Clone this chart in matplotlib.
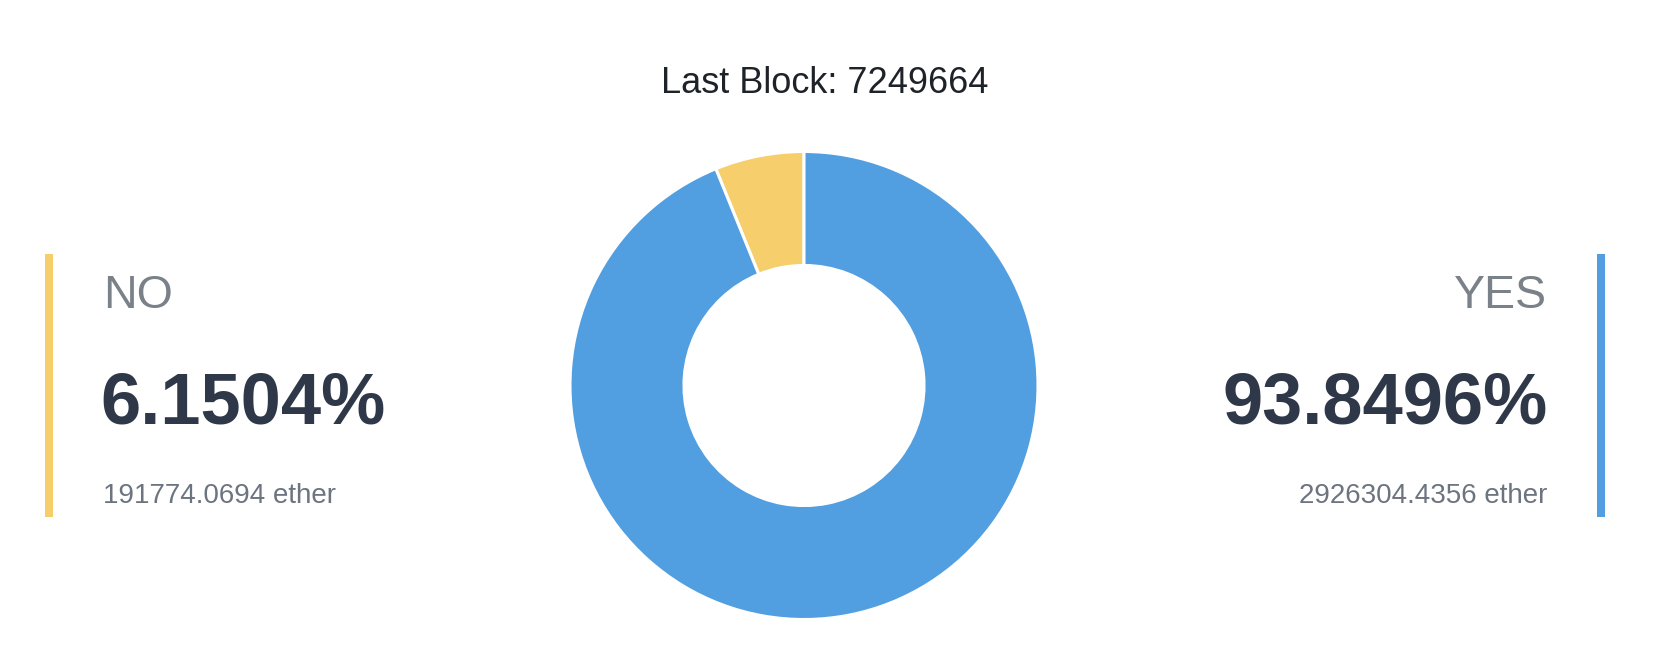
import matplotlib
matplotlib.use("Agg")
import matplotlib.pyplot as plt
from matplotlib.patches import Rectangle

# ---- data ----
labels = ["NO", "YES"]
percents = [6.1504, 93.8496]
ether = ["191774.0694", "2926304.4356"]
last_block = 7249664
colors = ["#F6CE6B", "#519EE0"]

W, H = 1670, 668
plt.rcParams['font.family'] = ['Liberation Sans', 'DejaVu Sans']
fig = plt.figure(figsize=(W / 100, H / 100), dpi=100)
fig.patch.set_facecolor("white")

def fx(x):
    return x / W

def fy(y):
    return 1 - y / H

# donut
cx, cy, r = 804, 385.5, 234
ax = fig.add_axes([fx(cx - r), fy(cy + r), 2 * r / W, 2 * r / H])
ax.pie(percents, colors=colors, startangle=90, counterclock=True,
       radius=1.0, wedgeprops=dict(width=0.487, edgecolor="white", linewidth=2.2))
ax.set_xlim(-1, 1)
ax.set_ylim(-1, 1)
ax.axis("off")

# title
fig.text(fx(825), fy(93), f"Last Block: {last_block}", ha="center", va="baseline",
         fontsize=26, color="#1E2229")

label_color = "#7B8189"
pct_color = "#2F3848"
small_color = "#6C7480"

# left (NO)
fig.add_artist(Rectangle((fx(45), fy(517)), 8 / W, (517 - 254) / H,
                         transform=fig.transFigure, color=colors[0], lw=0))
fig.text(fx(103), fy(308), labels[0], ha="left", va="baseline", fontsize=33.5, color=label_color)
fig.text(fx(100), fy(423), f"{percents[0]:.4f}%", ha="left", va="baseline",
         fontsize=52, fontweight="bold", color=pct_color)
fig.text(fx(103), fy(503), f"{ether[0]} ether", ha="left", va="baseline",
         fontsize=20, color=small_color)

# right (YES)
fig.add_artist(Rectangle((fx(1597), fy(517)), 8 / W, (517 - 254) / H,
                         transform=fig.transFigure, color=colors[1], lw=0))
fig.text(fx(1547), fy(308), labels[1], ha="right", va="baseline", fontsize=33.5, color=label_color)
fig.text(fx(1548), fy(423), f"{percents[1]:.4f}%", ha="right", va="baseline",
         fontsize=52, fontweight="bold", color=pct_color)
fig.text(fx(1547), fy(503), f"{ether[1]} ether", ha="right", va="baseline",
         fontsize=20, color=small_color)

fig.savefig("out.png", dpi=100, facecolor="white")
